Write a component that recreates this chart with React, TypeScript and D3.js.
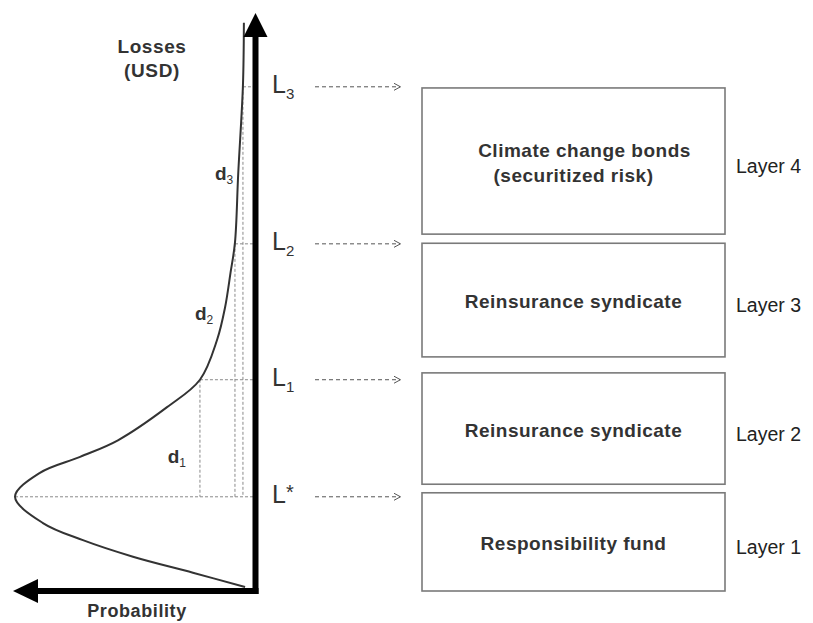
import React from "react";
import * as d3 from "d3";

// ---- data ----
const densityLoss = [0.7, 3.2, 6.0, 8.9, 11.9, 16.5, 20.7, 23.5, 26.4, 32.2, 37.0, 44.0, 49.7, 55.7, 61.0, 73.2, 88.6, 99.5];
const densityProb = [0.021, 0.243, 0.498, 0.711, 0.881, 1.0, 0.894, 0.723, 0.562, 0.353, 0.213, 0.14, 0.106, 0.083, 0.064, 0.05, 0.03, 0.026];

const levelMain = ["L", "L", "L", "L"];
const levelSub = ["*", "1", "2", "3"];
const levelLoss = [16.5, 37.0, 60.8, 88.3];
const levelProb = [1.0, 0.213, 0.064, 0.03];

const dLabels = ["1", "2", "3"];
const dLabelLoss = [22.5, 47.5, 72.0];
const dLabelProb = [0.35, 0.234, 0.149];

const layerNames = ["Layer 1", "Layer 2", "Layer 3", "Layer 4"];
const layerLow = [0, 18.7, 41.0, 62.5];
const layerHigh = [17.2, 38.2, 60.9, 88.1];
const layerText = [
  ["Responsibility fund"],
  ["Reinsurance syndicate"],
  ["Reinsurance syndicate"],
  ["Climate change bonds", "(securitized risk)"],
];

const yAxisTitle = ["Losses", "(USD)"];
const xAxisTitle = "Probability";

export default function App() {
  const W = 813;
  const H = 623;
  const x = d3.scaleLinear().domain([0, 1]).range([250, 15]);
  const y = d3.scaleLinear().domain([0, 100]).range([591, 20]);
  const axisX = x(0) + 5.5;
  const axisY = y(0);

  const pts: [number, number][] = densityLoss.map((l, i) => [densityProb[i], l]);
  const line = d3
    .line<[number, number]>()
    .x((d) => x(d[0]))
    .y((d) => y(d[1]))
    .curve(d3.curveCatmullRom.alpha(0.5));

  const font = "Arial, 'Liberation Sans', Helvetica, sans-serif";
  const boxX0 = 422;
  const boxX1 = 725;
  const dotted = { stroke: "#8a8a8a", strokeWidth: 1, strokeDasharray: "3,2", fill: "none" };

  return (
    <svg
      width={W}
      height={H}
      style={{ position: "absolute", left: 0, top: 0, background: "#fff" }}
      fontFamily={font}
    >
      <rect x={0} y={0} width={W} height={H} fill="#fff" />

      {/* dotted guide lines */}
      {levelLoss.map((l, i) => (
        <g key={"g" + i}>
          <line x1={x(levelProb[i])} x2={axisX} y1={y(l)} y2={y(l)} {...dotted} />
          {i > 0 && (
            <line x1={x(levelProb[i])} x2={x(levelProb[i])} y1={y(l)} y2={y(levelLoss[0])} {...dotted} />
          )}
        </g>
      ))}

      {/* density curve */}
      <path d={line(pts) || ""} fill="none" stroke="#333" strokeWidth={2} />

      {/* axes */}
      <line x1={axisX} x2={axisX} y1={36} y2={axisY + 3} stroke="#000" strokeWidth={6} />
      <line x1={37} x2={axisX + 3} y1={axisY} y2={axisY} stroke="#000" strokeWidth={6} />
      <path d={`M${axisX},13 L${axisX - 12},37 L${axisX + 12},37 Z`} fill="#000" />
      <path d={`M13,${axisY} L38,${axisY - 12} L38,${axisY + 12} Z`} fill="#000" />

      {/* axis titles */}
      {yAxisTitle.map((t, i) => (
        <text key={t} x={152} y={53 + i * 24} textAnchor="middle" fontSize={19} fontWeight="bold" fill="#333" letterSpacing={0.6}>
          {t}
        </text>
      ))}
      <text x={137} y={617} textAnchor="middle" fontSize={18} fontWeight="bold" fill="#333" letterSpacing={0.6}>
        {xAxisTitle}
      </text>

      {/* d labels */}
      {dLabels.map((s, i) => (
        <text key={"d" + i} x={x(dLabelProb[i])} y={y(dLabelLoss[i])} fontSize={19} fontWeight="bold" fill="#333">
          d
          <tspan fontSize={12} dy={4} fontWeight="normal">{s}</tspan>
        </text>
      ))}

      {/* level labels and arrows */}
      {levelLoss.map((l, i) => {
        const yy = y(l);
        return (
          <g key={"l" + i}>
            <text x={272} y={yy + 6} fontSize={25} fill="#333">
              {levelMain[i]}
              {levelSub[i] === "*" ? (
                <tspan fontSize={20} dy={-4}>{levelSub[i]}</tspan>
              ) : (
                <tspan fontSize={15} dy={6}>{levelSub[i]}</tspan>
              )}
            </text>
            <line x1={315} x2={400} y1={yy} y2={yy} stroke="#555" strokeWidth={1} strokeDasharray="4,3" />
            <path d={`M394,${yy - 3.5} L400.5,${yy} L394,${yy + 3.5}`} fill="none" stroke="#555" strokeWidth={1} />
          </g>
        );
      })}

      {/* layer boxes */}
      {layerNames.map((name, i) => {
        const top = y(layerHigh[i]);
        const bot = y(layerLow[i]);
        const cy = (top + bot) / 2;
        const lines = layerText[i];
        return (
          <g key={name}>
            <rect x={boxX0} y={top} width={boxX1 - boxX0} height={bot - top} fill="#fff" stroke="#7a7a7a" strokeWidth={1.6} />
            {lines.map((t, j) => (
              <text
                key={t}
                x={(boxX0 + boxX1) / 2 + (lines.length > 1 && j === 0 ? 11 : 0)}
                y={cy + 8 + (j - (lines.length - 1) / 2) * 25}
                textAnchor="middle"
                fontSize={19}
                fontWeight="bold"
                fill="#333"
                letterSpacing={0.5}
              >
                {t}
              </text>
            ))}
            <text x={736} y={cy + 12} fontSize={19.5} fill="#222">
              {name}
            </text>
          </g>
        );
      })}
    </svg>
  );
}
